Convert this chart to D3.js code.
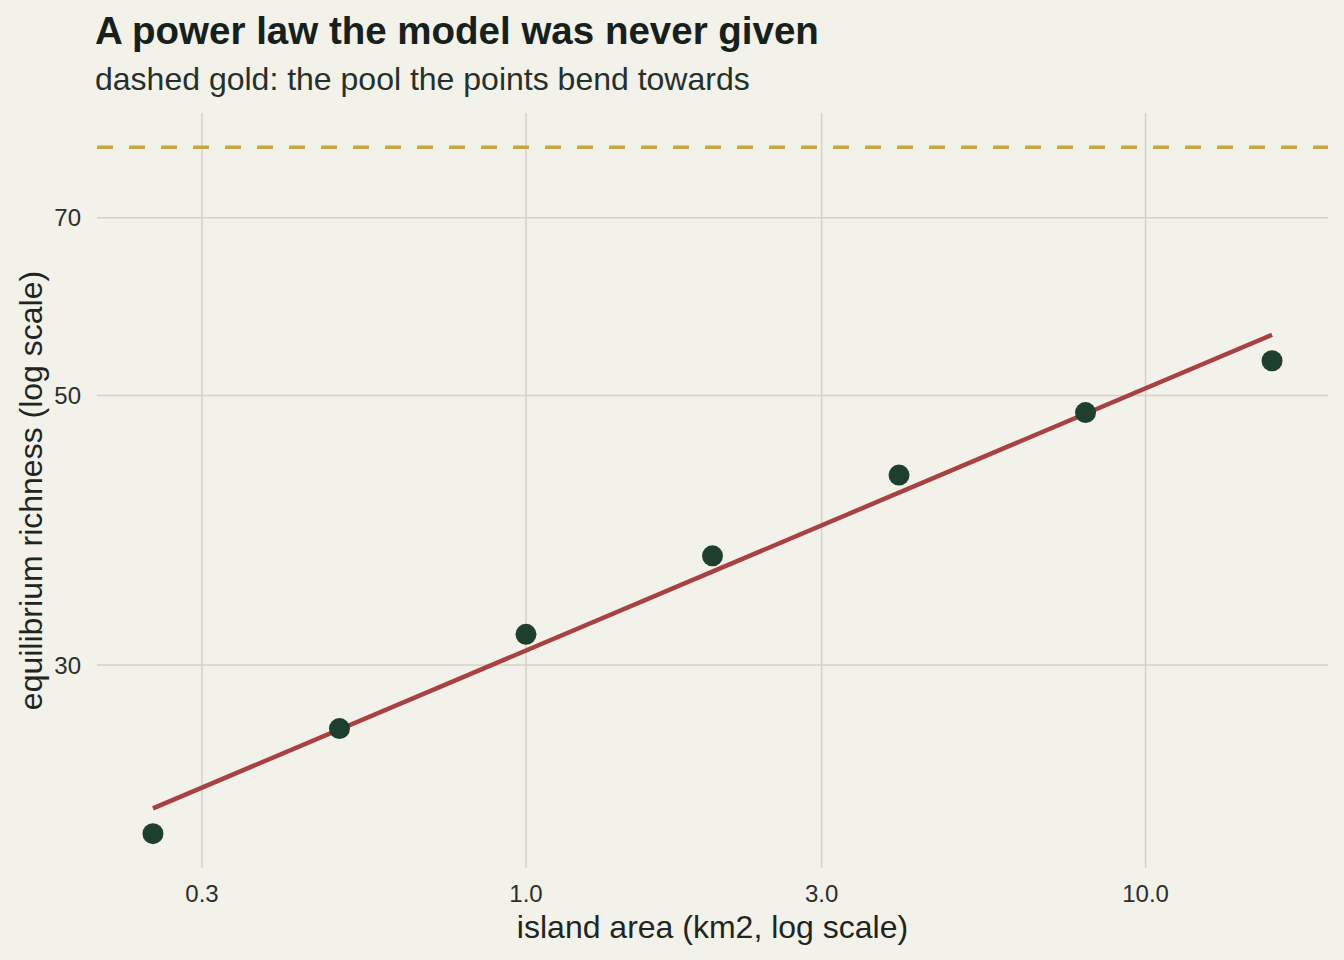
<!DOCTYPE html>
<html lang="en">

<head>
    <meta charset="UTF-8">
    <title>A power law the model was never given</title>
    <script src="https://cdnjs.cloudflare.com/ajax/libs/d3/7.8.5/d3.min.js"></script>
    <style>
        body {
            margin: 0;
            background-color: #f2f1ea;
            font-family: "Liberation Sans", Arial, sans-serif;
        }

        .grid line {
            stroke: #d5d3c6;
            stroke-width: 1.5px;
        }
    </style>
</head>

<body>
    <svg id="chart"></svg>

    <script>

        const width = 1344;
        const height = 960;

        // data
        const areas = [0.25, 0.5, 1, 2, 4, 8, 16];
        const richness = [21.8, 26.6, 31.8, 36.9, 43.0, 48.4, 53.4];
        const pool = 80;
        const xTicks = [0.3, 1, 3, 10];
        const yTicks = [30, 50, 70];

        const margin = {left: 97, right: 16, top: 113, bottom: 92};

        let svg = d3.select("#chart")
            .attr("width", width)
            .attr("height", height)
            .style("font-family", "'Liberation Sans', Arial, sans-serif");

        svg.append("rect")
            .attr("width", width)
            .attr("height", height)
            .attr("fill", "#f2f1ea");

        // log ranges with ggplot style 5% expansion
        function expanded(lo, hi) {
            let a = Math.log10(lo), b = Math.log10(hi);
            let pad = (b - a) * 0.05;
            return [Math.pow(10, a - pad), Math.pow(10, b + pad)];
        }

        let x = d3.scaleLog()
            .domain(expanded(d3.min(areas), d3.max(areas)))
            .range([margin.left, width - margin.right]);

        let y = d3.scaleLog()
            .domain(expanded(d3.min(richness), Math.max(d3.max(richness), pool)))
            .range([height - margin.bottom, margin.top]);

        // grid
        svg.append("g")
            .attr("class", "grid")
            .selectAll("line")
            .data(xTicks)
            .join("line")
            .attr("x1", d => x(d))
            .attr("x2", d => x(d))
            .attr("y1", margin.top)
            .attr("y2", height - margin.bottom);

        svg.append("g")
            .attr("class", "grid")
            .selectAll("line")
            .data(yTicks)
            .join("line")
            .attr("x1", margin.left)
            .attr("x2", width - margin.right)
            .attr("y1", d => y(d))
            .attr("y2", d => y(d));

        // tick labels
        svg.append("g")
            .selectAll("text")
            .data(xTicks)
            .join("text")
            .attr("x", d => x(d))
            .attr("y", 902)
            .attr("text-anchor", "middle")
            .attr("font-size", 24)
            .attr("fill", "#2b2f2b")
            .text(d => d.toFixed(1));

        svg.append("g")
            .selectAll("text")
            .data(yTicks)
            .join("text")
            .attr("x", 81)
            .attr("y", d => y(d))
            .attr("dy", "0.36em")
            .attr("text-anchor", "end")
            .attr("font-size", 24)
            .attr("fill", "#2b2f2b")
            .text(d => d);

        // pool line
        svg.append("line")
            .attr("x1", margin.left)
            .attr("x2", width - margin.right)
            .attr("y1", y(pool))
            .attr("y2", y(pool))
            .attr("stroke", "#c4a744")
            .attr("stroke-width", 3.5)
            .attr("stroke-dasharray", "16,16");

        // least squares fit in log-log space
        let lx = areas.map(Math.log10);
        let ly = richness.map(Math.log10);
        let mx = d3.mean(lx), my = d3.mean(ly);
        let slope = d3.sum(lx, (v, i) => (v - mx) * (ly[i] - my)) / d3.sum(lx, v => (v - mx) * (v - mx));
        let icpt = my - slope * mx;
        let fit = d3.extent(areas).map(a => [a, Math.pow(10, icpt + slope * Math.log10(a))]);

        svg.append("path")
            .datum(fit)
            .attr("d", d3.line().x(d => x(d[0])).y(d => y(d[1])))
            .attr("fill", "none")
            .attr("stroke", "#a84141")
            .attr("stroke-width", 4.5);

        // points
        svg.append("g")
            .selectAll("circle")
            .data(areas)
            .join("circle")
            .attr("cx", d => x(d))
            .attr("cy", (d, i) => y(richness[i]))
            .attr("r", 10.5)
            .attr("fill", "#1e3f2d");

        // titles
        svg.append("text")
            .attr("x", 95)
            .attr("y", 44)
            .attr("font-size", 38.5)
            .attr("font-weight", "bold")
            .attr("fill", "#17201a")
            .text("A power law the model was never given");

        svg.append("text")
            .attr("x", 95)
            .attr("y", 90)
            .attr("font-size", 32)
            .attr("fill", "#26302a")
            .text("dashed gold: the pool the points bend towards");

        svg.append("text")
            .attr("x", (margin.left + width - margin.right) / 2)
            .attr("y", 938)
            .attr("text-anchor", "middle")
            .attr("font-size", 32)
            .attr("fill", "#1f2621")
            .text("island area (km2, log scale)");

        svg.append("text")
            .attr("transform", "translate(42," + (margin.top + height - margin.bottom) / 2 + ") rotate(-90)")
            .attr("text-anchor", "middle")
            .attr("font-size", 32)
            .attr("fill", "#1f2621")
            .text("equilibrium richness (log scale)");

    </script>
</body>

</html>
